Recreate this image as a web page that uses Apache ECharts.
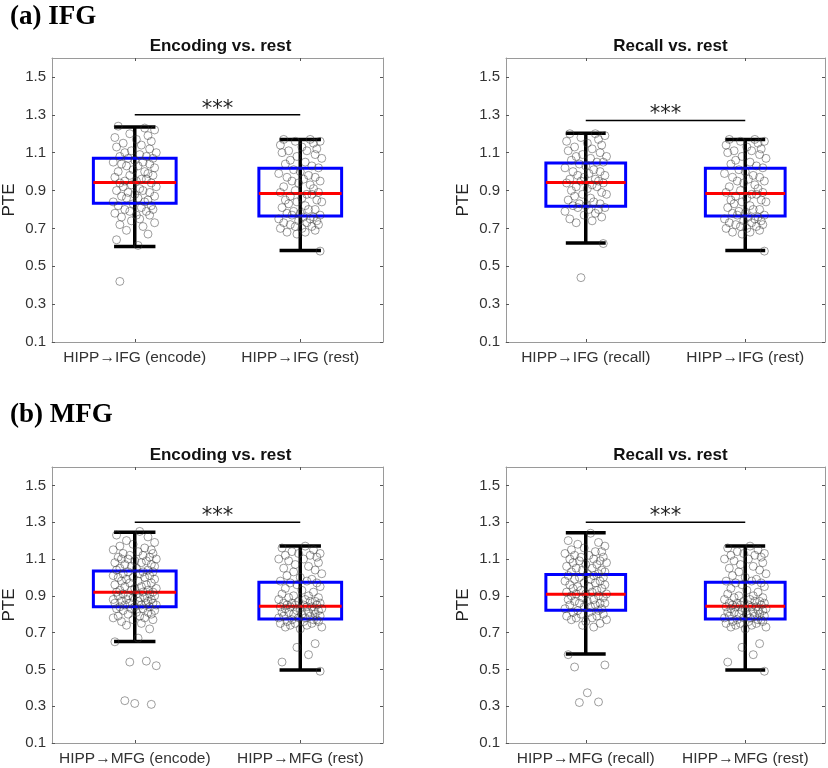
<!DOCTYPE html>
<html>
<head>
<meta charset="utf-8">
<script src="https://cdn.jsdelivr.net/npm/echarts@6/dist/echarts.min.js"></script>
<style>
html,body{margin:0;padding:0;background:#fff;}
#chart{width:828px;height:768px;}
</style>
</head>
<body>
<div id="chart"></div>
<script>
// ---------- DATA ----------
const panelTitles = ['Encoding vs. rest', 'Recall vs. rest', 'Encoding vs. rest', 'Recall vs. rest'];
const sectionLabels = ['(a) IFG', '(b) MFG'];
const xLabelsA1 = ['HIPP\u2192IFG (encode)', 'HIPP\u2192IFG (rest)'];
const xLabelsA2 = ['HIPP\u2192IFG (recall)', 'HIPP\u2192IFG (rest)'];
const xLabelsB1 = ['HIPP\u2192MFG (encode)', 'HIPP\u2192MFG (rest)'];
const xLabelsB2 = ['HIPP\u2192MFG (recall)', 'HIPP\u2192MFG (rest)'];
const yTicks = [0.1, 0.3, 0.5, 0.7, 0.9, 1.1, 1.3, 1.5];
const sigY = [1.30, 1.27, 1.30, 1.30];

// box stats: [lower whisker, Q1, median, Q3, upper whisker]
const boxIfgEncode = [0.604, 0.833, 0.942, 1.070, 1.236];
const boxIfgRest   = [0.583, 0.766, 0.884, 1.018, 1.170];
const boxIfgRecall = [0.623, 0.817, 0.942, 1.046, 1.203];
const boxMfgEncode = [0.652, 0.841, 0.919, 1.035, 1.245];
const boxMfgRest   = [0.497, 0.774, 0.843, 0.973, 1.170];
const boxMfgRecall = [0.584, 0.821, 0.908, 1.016, 1.243];

// individual subject values
const ifgEncode = [1.24,1.23,1.22,1.20,1.19,1.18,1.17,1.16,1.15,1.14,1.13,1.12,1.11,1.10,1.10,1.09,1.08,1.08,1.07,1.07,
  1.06,1.05,1.05,1.04,1.04,1.03,1.03,1.02,1.01,1.00,1.00,0.99,0.98,0.98,0.97,0.96,0.96,0.95,0.95,0.94,
  0.94,0.93,0.92,0.92,0.91,0.90,0.90,0.89,0.89,0.88,0.87,0.87,0.86,0.86,0.85,0.84,0.84,0.83,0.82,0.82,
  0.81,0.80,0.80,0.79,0.79,0.78,0.77,0.77,0.76,0.75,0.74,0.73,0.72,0.71,0.69,0.67,0.64,0.61,0.42];
const ifgRest = [1.17,1.17,1.16,1.16,1.15,1.14,1.13,1.12,1.11,1.11,1.10,1.09,1.08,1.07,1.06,1.05,1.04,1.03,1.02,1.01,
  1.00,0.99,0.98,0.97,0.97,0.96,0.95,0.95,0.94,0.93,0.92,0.91,0.90,0.89,0.89,0.88,0.88,0.87,0.86,0.85,
  0.85,0.84,0.84,0.83,0.82,0.81,0.80,0.80,0.79,0.78,0.78,0.77,0.77,0.76,0.76,0.75,0.75,0.74,0.74,0.73,
  0.73,0.72,0.72,0.71,0.71,0.70,0.70,0.69,0.68,0.68,0.67,0.58];
const ifgRecall = [1.20,1.20,1.19,1.18,1.17,1.16,1.15,1.14,1.13,1.12,1.11,1.10,1.09,1.08,1.08,1.07,1.06,1.05,1.05,1.04,
  1.03,1.02,1.01,1.00,1.00,0.99,0.98,0.98,0.97,0.96,0.96,0.95,0.95,0.94,0.94,0.93,0.92,0.92,0.91,0.90,
  0.89,0.88,0.88,0.87,0.86,0.85,0.84,0.83,0.83,0.82,0.82,0.81,0.81,0.80,0.80,0.79,0.78,0.77,0.76,0.75,
  0.74,0.73,0.62,0.44];
const mfgEncode = [1.25,1.23,1.22,1.20,1.19,1.18,1.17,1.16,1.15,1.15,1.14,1.13,1.13,1.12,1.12,1.11,1.11,1.10,1.10,1.10,
  1.09,1.09,1.08,1.08,1.07,1.07,1.06,1.06,1.05,1.05,1.04,1.04,1.03,1.03,1.03,1.02,1.02,1.01,1.01,1.00,1.00,1.00,
  0.99,0.99,0.98,0.98,0.97,0.97,0.96,0.96,0.95,0.95,0.94,0.94,0.93,0.93,0.93,0.92,0.92,0.92,0.91,0.91,0.91,0.90,0.90,0.90,
  0.89,0.89,0.89,0.88,0.88,0.88,0.87,0.87,0.87,0.86,0.86,0.86,0.86,0.85,0.85,0.85,0.84,0.84,0.84,0.83,0.83,0.83,0.82,0.82,0.81,0.81,0.80,0.80,
  0.79,0.79,0.78,0.78,0.77,0.77,0.76,0.75,0.74,0.72,
  0.67,0.65,0.545,0.54,0.52,0.33,0.315,0.31];
const mfgRest = [1.17,1.16,1.15,1.14,1.13,1.13,1.12,1.12,1.11,1.10,1.10,1.09,1.08,1.07,1.06,1.05,1.04,1.03,1.02,1.01,1.00,
  0.99,0.98,0.98,0.97,0.97,0.96,0.95,0.94,0.93,0.92,0.91,0.90,0.90,
  0.89,0.89,0.88,0.88,0.87,0.87,0.87,0.86,0.86,0.86,0.85,0.85,0.85,0.85,0.84,0.84,0.84,0.84,0.83,0.83,0.83,0.82,0.82,0.82,0.81,0.81,0.81,0.80,0.80,0.80,
  0.79,0.79,0.79,0.78,0.78,0.78,0.77,0.77,0.77,0.76,0.76,0.76,0.75,0.75,0.75,0.74,0.74,0.73,0.73,0.72,
  0.64,0.62,0.58,0.54,0.49];
const mfgRecall = [1.24,1.20,1.19,1.18,1.17,1.16,1.15,1.14,1.14,1.13,1.12,1.12,1.11,1.11,1.10,1.10,
  1.09,1.09,1.08,1.08,1.07,1.07,1.06,1.05,1.05,1.04,1.04,1.03,1.03,1.02,1.02,1.01,1.01,1.00,1.00,
  0.99,0.99,0.98,0.98,0.97,0.97,0.96,0.96,0.95,0.95,0.94,0.94,0.93,0.93,0.92,0.92,0.91,0.91,0.91,0.90,0.90,
  0.89,0.89,0.88,0.88,0.87,0.87,0.86,0.86,0.86,0.85,0.85,0.84,0.84,0.83,0.83,0.82,0.82,0.81,0.81,0.80,0.80,
  0.79,0.79,0.78,0.78,0.77,0.77,0.76,0.75,0.74,0.73,
  0.58,0.524,0.513,0.373,0.323,0.32];

// horizontal jitter offsets (category units)
const jitterIfg = [-0.10,0.06,0.12,-0.03,0.08,-0.12,0.01,0.10,-0.07,0.04,-0.11,0.09,-0.02,0.13,-0.06,0.03,-0.09,0.07,0.11,-0.04,
  0.00,-0.13,0.05,0.09,-0.08,0.02,-0.05,0.12,-0.01,0.06,-0.10,0.08,-0.03,0.11,-0.12,0.04,0.07,-0.06,0.01,-0.09,
  0.10,-0.02,0.13,-0.07,0.03,-0.11,0.05,0.09,-0.04,0.00,-0.08,0.12,-0.05,0.02,0.08,-0.13,0.06,-0.01,0.10,-0.10,
  0.04,-0.06,0.11,-0.03,0.07,-0.12,0.01,0.09,-0.08,0.03,-0.02,0.12,-0.09,0.05,-0.05,0.08,-0.11,0.02,-0.09,-0.07];
const jitterMfg = [0.03,-0.11,0.08,-0.05,0.12,-0.01,-0.09,0.06,0.10,-0.13,0.02,-0.07,0.11,-0.03,0.05,-0.10,0.09,-0.04,0.13,-0.08,
  0.00,0.07,-0.12,0.04,-0.06,0.10,-0.02,0.12,-0.09,0.01,0.08,-0.11,0.05,-0.04,0.11,-0.07,0.03,-0.13,0.09,-0.01,
  0.06,-0.10,0.12,-0.05,0.02,-0.08,0.10,-0.03,0.07,-0.12,0.04,-0.06,0.13,0.00,-0.09,0.08,-0.02,0.11,-0.11,0.05,
  -0.07,0.01,0.09,-0.04,0.12,-0.10,0.06,-0.01,0.03,-0.13,0.10,-0.05,0.08,-0.08,0.02,0.11,-0.03,-0.12,0.07,0.04,
  -0.06,0.13,-0.09,0.00,0.09,-0.02,0.05,-0.11,0.12,-0.07,0.01,0.08,-0.04,0.10,-0.10,0.03,-0.13,0.06,-0.01,0.11,
  -0.08,0.04,-0.05,0.09,0.02,-0.12,0.07,-0.03,0.13,-0.06,0.00,0.10,-0.09,0.05,-0.11];

// ---------- PANELS (built from the arrays above) ----------
const panels = [
  {grid:{left:48, top:58, width:335, height:284}, labels:xLabelsA1, boxes:[boxIfgEncode, boxIfgRest], pts:[ifgEncode, ifgRest], jit:jitterIfg},
  {grid:{left:506, top:58, width:319, height:284}, labels:xLabelsA2, boxes:[boxIfgRecall, boxIfgRest], pts:[ifgRecall, ifgRest], jit:jitterIfg},
  {grid:{left:48, top:467, width:335, height:276}, labels:xLabelsB1, boxes:[boxMfgEncode, boxMfgRest], pts:[mfgEncode, mfgRest], jit:jitterMfg},
  {grid:{left:506, top:467, width:319, height:276}, labels:xLabelsB2, boxes:[boxMfgRecall, boxMfgRest], pts:[mfgRecall, mfgRest], jit:jitterMfg}
];

const FONT = 'Liberation Sans';
const axisGray = '#9a9a9a';
const grids = [], xAxes = [], yAxes = [], series = [], titles = [];

function renderBox(params, api) {
  const x = api.value(0);
  const lo = api.value(1), q1 = api.value(2), med = api.value(3), q3 = api.value(4), hi = api.value(5);
  const pLo = api.coord([x, lo]), pHi = api.coord([x, hi]);
  const capL = api.coord([x - 0.125, lo])[0], capR = api.coord([x + 0.125, lo])[0];
  const bL = api.coord([x - 0.25, q3]), bR = api.coord([x + 0.25, q1]);
  const m = api.coord([x, med])[1];
  const black = {stroke:'#000', lineWidth:3.5, fill:null};
  return {type:'group', children:[
    {type:'line', shape:{x1:pLo[0], y1:pLo[1], x2:pHi[0], y2:pHi[1]}, style:black},
    {type:'line', shape:{x1:capL, y1:pLo[1], x2:capR, y2:pLo[1]}, style:black},
    {type:'line', shape:{x1:capL, y1:pHi[1], x2:capR, y2:pHi[1]}, style:black},
    {type:'rect', shape:{x:bL[0], y:bL[1], width:bR[0]-bL[0], height:bR[1]-bL[1]}, style:{stroke:'#0000ff', lineWidth:3, fill:null}},
    {type:'line', shape:{x1:bL[0], y1:m, x2:bR[0], y2:m}, style:{stroke:'#ff0000', lineWidth:3}}
  ]};
}
function renderSig(params, api) {
  const a = api.coord([api.value(0), api.value(2)]);
  const b = api.coord([api.value(1), api.value(2)]);
  return {type:'group', children:[
    {type:'line', shape:{x1:a[0], y1:a[1], x2:b[0], y2:b[1]}, style:{stroke:'#000', lineWidth:1.5}},
    {type:'text', x:(a[0]+b[0])/2, y:a[1]+5, style:{text:'***', fontSize:21, fontFamily:'DejaVu Sans', fill:'#222', align:'center', verticalAlign:'bottom'}}
  ]};
}

panels.forEach((p, i) => {
  grids.push(Object.assign({containLabel:false}, p.grid));
  const tickStyle = {show:true, inside:true, length:3, lineStyle:{color:'#555', width:1}};
  const lineStyle = {show:true, onZero:false, lineStyle:{color:axisGray, width:1}};
  xAxes.push({type:'value', gridIndex:i, position:'bottom', min:0.5, max:2.5, interval:0.5,
    axisLine:lineStyle, splitLine:{show:false},
    axisTick:Object.assign({customValues:[1,2]}, tickStyle),
    axisLabel:{customValues:[1,2], margin:8, color:'#333', fontSize:15.5, fontFamily:FONT,
      formatter:(v) => p.labels[Math.round(v) - 1]}});
  xAxes.push({type:'value', gridIndex:i, position:'top', min:0.5, max:2.5, interval:0.5,
    axisLine:lineStyle, splitLine:{show:false},
    axisTick:Object.assign({customValues:[1,2]}, tickStyle), axisLabel:{show:false}});
  yAxes.push({type:'value', gridIndex:i, position:'left', min:0.1, max:1.6, interval:0.1,
    axisLine:lineStyle, splitLine:{show:false},
    axisTick:Object.assign({customValues:yTicks}, tickStyle),
    axisLabel:{customValues:yTicks, margin:6, color:'#333', fontSize:15, fontFamily:FONT,
      formatter:(v) => v.toFixed(1)},
    name:'PTE', nameLocation:'middle', nameGap:34, nameRotate:90,
    nameTextStyle:{fontSize:17, fontFamily:FONT, color:'#222'}});
  yAxes.push({type:'value', gridIndex:i, position:'right', min:0.1, max:1.6, interval:0.1,
    axisLine:lineStyle, splitLine:{show:false},
    axisTick:Object.assign({customValues:yTicks}, tickStyle), axisLabel:{show:false}});

  const xb = i * 2, yl = i * 2;
  series.push({type:'custom', xAxisIndex:xb, yAxisIndex:yl, renderItem:renderBox, z:2, silent:true,
    encode:{x:0, y:[1,2,3,4,5]},
    data:p.boxes.map((b, k) => [k + 1].concat(b))});
  p.pts.forEach((vals, k) => {
    series.push({type:'scatter', xAxisIndex:xb, yAxisIndex:yl, z:3, silent:true,
      symbol:'circle', symbolSize:8,
      itemStyle:{color:'rgba(0,0,0,0)', borderColor:'rgba(55,55,55,0.6)', borderWidth:1},
      data:vals.map((v, j) => [k + 1 + p.jit[j], v])});
  });
  series.push({type:'custom', xAxisIndex:xb, yAxisIndex:yl, renderItem:renderSig, z:4, silent:true,
    encode:{x:[0,1], y:2}, data:[[1, 2, sigY[i]]]});

  titles.push({text:panelTitles[i], left:p.grid.left + p.grid.width / 2, top:p.grid.top - 25, textAlign:'center',
    textStyle:{fontSize:17, fontWeight:'bold', fontFamily:FONT, color:'#111'}});
});

titles.push({text:sectionLabels[0], left:5, top:-1,
  textStyle:{fontSize:27, fontWeight:'bold', fontFamily:'Liberation Serif', color:'#000'}});
titles.push({text:sectionLabels[1], left:5, top:397,
  textStyle:{fontSize:27, fontWeight:'bold', fontFamily:'Liberation Serif', color:'#000'}});

const chart = echarts.init(document.getElementById('chart'), null, {renderer:'canvas'});
chart.setOption({
  animation:false,
  backgroundColor:'#fff',
  title:titles,
  grid:grids,
  xAxis:xAxes,
  yAxis:yAxes,
  series:series
});
</script>
</body>
</html>
